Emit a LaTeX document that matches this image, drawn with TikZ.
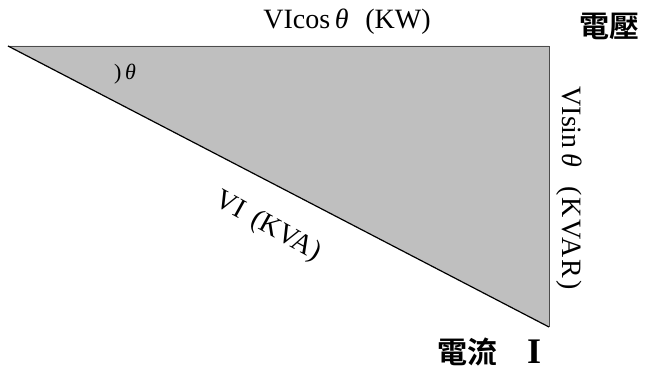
\documentclass[tikz,border=0pt]{standalone}
\usepackage{fontspec}
\setmainfont{Liberation Serif}
\newfontfamily\cjkfont{Noto Sans CJK TC}[BoldFont=* Bold]
\usepackage{tikz}

\begin{document}
\begin{tikzpicture}[x=1pt,y=1pt]
    \tikzstyle{label}=[inner sep=0pt, font=\fontsize{28}{28}\selectfont]
    \tikzstyle{cjk label}=[inner sep=0pt, font=\cjkfont\bfseries\fontsize{30}{30}\selectfont]
    \useasboundingbox (0,0) rectangle (645,372);

    % Corners of the power triangle
    \coordinate (A) at (8,326);
    \coordinate (B) at (549,326);
    \coordinate (C) at (549,45);

    % Draw the triangle
    \fill[black!25] (A) -- (B) -- (C) -- cycle;
    \draw[black!70, line width=0.8pt] (A) -- (B) -- (C);
    \draw[black, line width=1.2pt] (A) -- (C);

    % Annotate the sides
    \node[label] (P) at (347,350) {VIcos\,\textit{θ}\hspace{0.6em}(KW)};
    \node[label, rotate=-90] (Q) at (569,184)
        {VIsin\,\textit{θ}\hspace{0.7em}{\addfontfeature{LetterSpace=6}(KVAR)}};
    \node[label, rotate=-29] (S) at (268,145) {VI\hspace{0.4em}(KVA)};
    \node[label, font=\fontsize{22}{22}\selectfont] (T) at (125,298) {)\,\textit{θ}};

    % Name the phasors
    \node[cjk label] (V) at (609,346) {電壓};
    \node[cjk label, anchor=base west] (I) at (437,9)
        {電流\hspace{1em}{\fontsize{36}{36}\selectfont\rmfamily\bfseries I}};
\end{tikzpicture}
\end{document}
